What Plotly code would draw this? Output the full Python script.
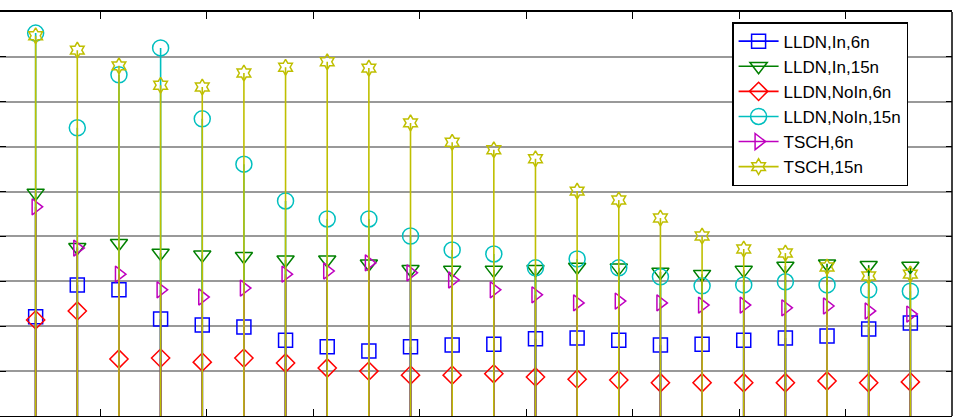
import plotly.graph_objects as go

# x positions (sample index)
x_idx = list(range(1, 23))

# series values (grid units)
lldn_in_6n = [2.21, 2.92, 2.81, 2.16, 2.03, 1.98, 1.69, 1.54, 1.45, 1.54, 1.58,
              1.60, 1.72, 1.74, 1.69, 1.58, 1.60, 1.69, 1.74, 1.78, 1.94, 2.07]
lldn_in_15n = [4.97, 3.76, 3.85, 3.63, 3.59, 3.56, 3.48, 3.48, 3.39, 3.27, 3.25,
               3.25, 3.27, 3.32, 3.30, 3.21, 3.16, 3.25, 3.34, 3.39, 3.36, 3.34]
lldn_noin_6n = [2.14, 2.34, 1.27, 1.29, 1.20, 1.29, 1.18, 1.07, 1.00, 0.91, 0.91,
                0.94, 0.87, 0.82, 0.80, 0.74, 0.74, 0.74, 0.74, 0.78, 0.74, 0.76]
lldn_noin_15n = [8.53, 6.42, 7.60, 8.20, 6.62, 5.61, 4.79, 4.39, 4.39, 4.01, 3.70,
                 3.61, 3.30, 3.50, 3.30, 3.10, 2.90, 2.92, 2.99, 2.92, 2.81, 2.78]
tsch_6n = [4.66, 3.74, 3.16, 2.81, 2.65, 2.85, 3.16, 3.23, 3.41, 3.19, 3.03,
           2.81, 2.70, 2.52, 2.56, 2.52, 2.47, 2.47, 2.41, 2.45, 2.34, 2.27]
tsch_15n = [8.47, 8.15, 7.80, 7.37, 7.33, 7.64, 7.77, 7.89, 7.75, 6.53, 6.10,
            5.93, 5.73, 5.01, 4.81, 4.41, 4.01, 3.72, 3.63, 3.32, 3.12, 3.16]

series_names = ["LLDN,In,6n", "LLDN,In,15n", "LLDN,NoIn,6n",
                "LLDN,NoIn,15n", "TSCH,6n", "TSCH,15n"]
series_values = [lldn_in_6n, lldn_in_15n, lldn_noin_6n,
                 lldn_noin_15n, tsch_6n, tsch_15n]

colors = ["#0000FF", "#008000", "#FF0000", "#00BFBF", "#BF00BF", "#BFBF00"]
symbols = ["square-open", "triangle-down-open", "diamond-open",
           "circle-open", "triangle-right-open", "hexagram-open"]
sizes = [14, 15, 14, 16, 14, 12]

X_MAX = 23
Y_MAX = 9

fig = go.Figure()

for name, vals, col, sym, sz in zip(series_names, series_values, colors, symbols, sizes):
    sx, sy = [], []
    for xv, yv in zip(x_idx, vals):
        sx += [xv, xv, None]
        sy += [0, yv, None]
    fig.add_trace(go.Scatter(x=sx, y=sy, mode="lines",
                             line=dict(color=col, width=1.6),
                             showlegend=False, hoverinfo="skip"))
    fig.add_trace(go.Scatter(x=x_idx, y=vals, mode="markers",
                             marker=dict(symbol=sym, size=sz, color=col,
                                         line=dict(color=col, width=1.5)),
                             showlegend=False))
    fig.add_trace(go.Scatter(x=[None], y=[None], mode="lines+markers", name=name,
                             line=dict(color=col, width=1.6),
                             marker=dict(symbol=sym, size=sz, color=col,
                                         line=dict(color=col, width=1.5))))

fig.add_shape(type="line", xref="paper", yref="paper", x0=1, x1=1, y0=0, y1=1,
              line=dict(color="black", width=1.5))

fig.update_layout(
    width=961, height=417,
    margin=dict(l=0, r=9, t=12, b=1),
    paper_bgcolor="white", plot_bgcolor="white",
    font=dict(family="Liberation Sans, Arial, sans-serif", color="black"),
    xaxis=dict(range=[6 / 41.65, X_MAX], showgrid=False, zeroline=False,
               showline=True, linecolor="black", linewidth=1.5, mirror="ticks",
               ticks="inside", ticklen=7, tickcolor="black", tickwidth=1,
               tickvals=[X_MAX * k / 9 for k in range(1, 9)],
               showticklabels=False),
    yaxis=dict(range=[0, Y_MAX], showgrid=True, gridcolor="#999999", gridwidth=1.5,
               zeroline=False, showline=False, mirror="ticks",
               ticks="inside", ticklen=6, tickcolor="black", tickwidth=1,
               tickvals=list(range(1, Y_MAX)), showticklabels=False),
    legend=dict(x=0.769, y=0.975, xanchor="left", yanchor="top",
                bgcolor="white", bordercolor="black", borderwidth=1.5,
                font=dict(size=17, family="Liberation Sans, Arial, sans-serif"),
                tracegroupgap=0, itemwidth=40),
    showlegend=True,
)

fig.write_html("out.html")
